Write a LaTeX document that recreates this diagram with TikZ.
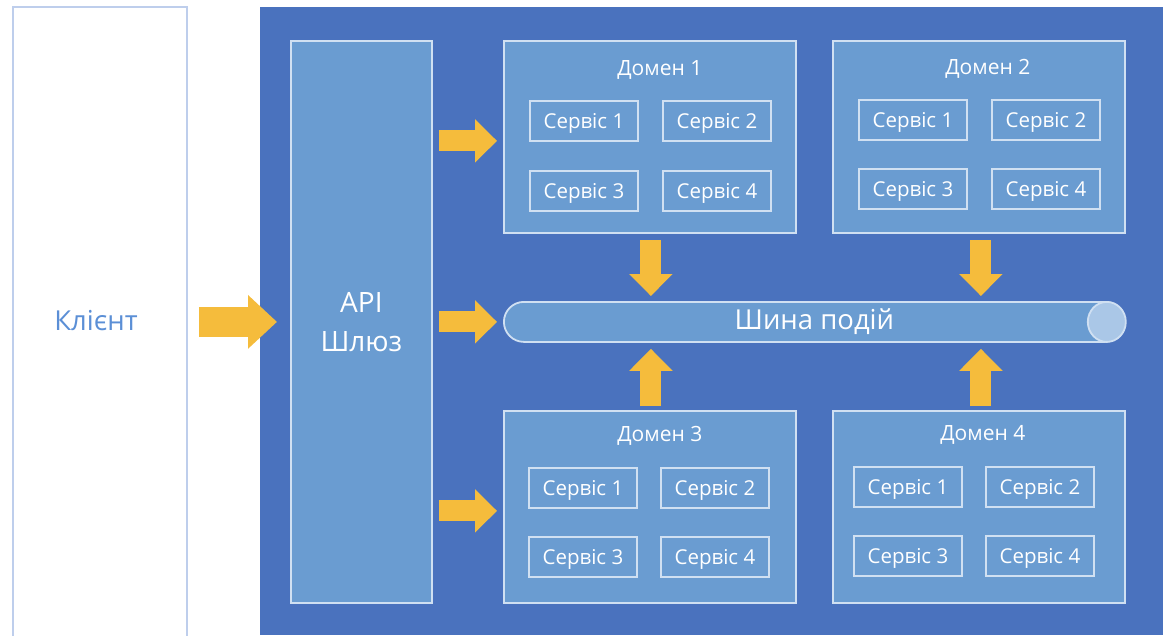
\documentclass[tikz,border=0pt]{standalone}
\usepackage{fontspec}
\setmainfont{Open Sans}
\usetikzlibrary{arrows.meta,calc}

\definecolor{panel}{RGB}{74,114,190}
\definecolor{boxfill}{RGB}{106,156,209}
\definecolor{edge}{RGB}{208,224,242}
\definecolor{capfill}{RGB}{170,199,231}
\definecolor{flow}{RGB}{245,188,60}
\definecolor{clientedge}{RGB}{190,206,236}
\definecolor{clienttext}{RGB}{91,143,214}

\begin{document}
\begin{tikzpicture}[x=1pt,y=-1pt,
  box/.style={draw=edge, line width=1.8pt, fill=boxfill, inner sep=0pt,
              anchor=north west},
  svcbox/.style={box, minimum width=108pt, minimum height=40pt,
                 text=white, text depth=0pt, font=\fontsize{20.5}{22}\selectfont},
  dombox/.style={box, minimum width=292pt, minimum height=192pt},
  domtitle/.style={text=white, font=\fontsize{21}{23}\selectfont, inner sep=0pt},
  bigflow/.style={draw=flow, line width=30pt,
                  -{Triangle[width=52pt,length=29pt]}},
  flowarrow/.style={draw=flow, line width=21pt,
                    -{Triangle[width=42pt,length=22pt]}},
]
\useasboundingbox (0,0) rectangle (1167,635);

% dark panel behind the system
\fill[panel] (260,7) rectangle (1163,635);

% client column
\node[draw=clientedge, line width=1.8pt, fill=white, anchor=north west,
      minimum width=174pt, minimum height=640pt, inner sep=0pt] (client) at (12,6) {};
\node[text=clienttext, font=\fontsize{27.5}{30}\selectfont] (clientlbl) at (96,321) {Клієнт};

% API gateway
\node[box, minimum width=141pt, minimum height=562pt] (api) at (290,40) {};
\node[text=white, align=center, font=\fontsize{28}{39}\selectfont] (apilbl)
  at (api.center) {API\\Шлюз};

% domains
\node[dombox] (d1) at (503,40) {};
\node[dombox] (d2) at (832,40) {};
\node[dombox] (d3) at (503,410) {};
\node[dombox] (d4) at (832,410) {};

\node[domtitle] (d1t) at ($(d1.north)+(10,30)$) {Домен 1};
\node[domtitle] (d2t) at ($(d2.north)+(9,29)$) {Домен 2};
\node[domtitle] (d3t) at ($(d3.north)+(10,26)$) {Домен 3};
\node[domtitle] (d4t) at ($(d4.north)+(4,25)$) {Домен 4};

% services inside each domain
\node[svcbox] (d1s1) at (529,100) {Сервіс 1};
\node[svcbox] (d1s2) at (662,100) {Сервіс 2};
\node[svcbox] (d1s3) at (529,170) {Сервіс 3};
\node[svcbox] (d1s4) at (662,170) {Сервіс 4};

\node[svcbox] (d2s1) at (858,99) {Сервіс 1};
\node[svcbox] (d2s2) at (991,99) {Сервіс 2};
\node[svcbox] (d2s3) at (858,168) {Сервіс 3};
\node[svcbox] (d2s4) at (991,168) {Сервіс 4};

\node[svcbox] (d3s1) at (528,467) {Сервіс 1};
\node[svcbox] (d3s2) at (660,467) {Сервіс 2};
\node[svcbox] (d3s3) at (528,536) {Сервіс 3};
\node[svcbox] (d3s4) at (660,536) {Сервіс 4};

\node[svcbox] (d4s1) at (853,466) {Сервіс 1};
\node[svcbox] (d4s2) at (985,466) {Сервіс 2};
\node[svcbox] (d4s3) at (853,535) {Сервіс 3};
\node[svcbox] (d4s4) at (985,535) {Сервіс 4};

% event bus: a lying cylinder
\node[draw=edge, line width=1.8pt, fill=boxfill, rounded corners=20pt,
      anchor=north west, minimum width=621pt, minimum height=40pt,
      inner sep=0pt] (bus) at (503,301) {};
\draw[edge, line width=1.8pt, fill=capfill]
  ($(bus.east)+(-19,0)$) ellipse [x radius=19pt, y radius=20pt];
\node[text=white, font=\fontsize{27.5}{30}\selectfont] (buslbl) at (bus.center) {Шина подій};

% request flow
\draw[bigflow] ($(client.east |- bus.center)+(11,0)$) -- ($(api.west |- bus.center)+(-13,0)$);
\draw[flowarrow] ($(api.east |- d1.center)+(6,4)$) -- ($(d1.west)+(-6,4)$);
\draw[flowarrow] ($(api.east |- bus.center)+(6,0)$) -- ($(bus.west)+(-6,0)$);
\draw[flowarrow] ($(api.east |- d3.center)+(6,4)$) -- ($(d3.west)+(-6,4)$);

% events published to and consumed from the bus
\draw[flowarrow] ($(d1.south)+(1,6)$) -- ($(d1.south |- bus.north)+(1,-5)$);
\draw[flowarrow] ($(d2.south)+(2,6)$) -- ($(d2.south |- bus.north)+(2,-5)$);
\draw[flowarrow] ($(d3.north)+(1,-4)$) -- ($(d3.north |- bus.south)+(1,6)$);
\draw[flowarrow] ($(d4.north)+(2,-4)$) -- ($(d4.north |- bus.south)+(2,6)$);
\end{tikzpicture}
\end{document}
